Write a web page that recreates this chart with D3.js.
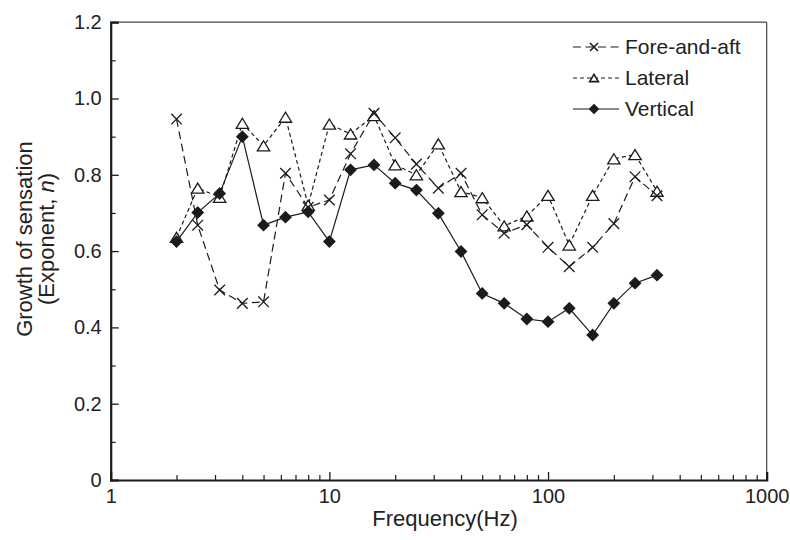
<!DOCTYPE html>
<html>
<head>
<meta charset="utf-8">
<script src="https://cdn.jsdelivr.net/npm/d3@7"></script>
<style>
  html, body { margin: 0; padding: 0; background: #fff; }
  svg { display: block; font-family: "Liberation Sans", Arial, Helvetica, sans-serif; }
</style>
</head>
<body>
<svg id="chart" width="790" height="540"></svg>
<script>
// One-third-octave centre frequencies (Hz)
const frequencies = [2, 2.5, 3.15, 4, 5, 6.3, 8, 10, 12.5, 16, 20, 25, 31.5, 40, 50, 63, 80, 100, 125, 160, 200, 250, 315];

// Rate of growth of sensation (exponent n) per axis
const foreAndAft = [0.946, 0.668, 0.498, 0.463, 0.467, 0.804, 0.715, 0.734, 0.855, 0.961, 0.897, 0.828, 0.765, 0.804, 0.695, 0.647, 0.669, 0.610, 0.559, 0.610, 0.672, 0.795, 0.745];
const lateral    = [0.636, 0.765, 0.741, 0.935, 0.876, 0.951, 0.720, 0.933, 0.907, 0.955, 0.826, 0.800, 0.881, 0.756, 0.740, 0.666, 0.692, 0.746, 0.616, 0.746, 0.842, 0.853, 0.757];
const vertical   = [0.625, 0.701, 0.751, 0.900, 0.668, 0.689, 0.703, 0.625, 0.813, 0.826, 0.778, 0.760, 0.699, 0.599, 0.489, 0.463, 0.422, 0.415, 0.450, 0.380, 0.463, 0.516, 0.537];

const xTickValues = [1, 10, 100, 1000];
const yTickValues = [0, 0.2, 0.4, 0.6, 0.8, 1.0, 1.2];
const seriesNames = ["Fore-and-aft", "Lateral", "Vertical"];

const svg = d3.select("#chart");
const plotLeft = 110.7, plotRight = 766.7, plotTop = 22.2, plotBottom = 480;
const ink = "#1b1b1b";

const x = d3.scaleLog().domain([1, 1000]).range([plotLeft, plotRight]);
const y = d3.scaleLinear().domain([0, 1.2]).range([plotBottom, plotTop]);

// Thin frame on the top and right
svg.append("line").attr("x1", plotLeft).attr("x2", plotRight).attr("y1", plotTop).attr("y2", plotTop)
  .attr("stroke", "#444").attr("stroke-width", 1.2);
svg.append("line").attr("x1", plotRight).attr("x2", plotRight).attr("y1", plotTop).attr("y2", plotBottom)
  .attr("stroke", "#444").attr("stroke-width", 1.2);

// Minor ticks
const xMinor = [];
[1, 10, 100].forEach(d => { for (let k = 2; k <= 9; k++) xMinor.push(d * k); });
const yMinor = [0.1, 0.3, 0.5, 0.7, 0.9, 1.1];

const xMinorAxis = svg.append("g").attr("transform", `translate(0,${plotBottom})`)
  .call(d3.axisBottom(x).tickValues(xMinor).tickSize(-5).tickFormat(""));
const yMinorAxis = svg.append("g").attr("transform", `translate(${plotLeft},0)`)
  .call(d3.axisLeft(y).tickValues(yMinor).tickSize(-5).tickFormat(""));
[xMinorAxis, yMinorAxis].forEach(g => {
  g.select(".domain").remove();
  g.selectAll("line").attr("stroke", ink).attr("stroke-width", 1.2);
});

// Major axes
const xAxis = svg.append("g").attr("transform", `translate(0,${plotBottom})`)
  .call(d3.axisBottom(x).tickValues(xTickValues).tickSize(-8).tickPadding(9).tickFormat(d3.format("d")));
const yAxis = svg.append("g").attr("transform", `translate(${plotLeft},0)`)
  .call(d3.axisLeft(y).tickValues(yTickValues).tickSize(-8).tickPadding(9)
    .tickFormat(d => d === 0 ? "0" : d3.format(".1f")(d)));
[xAxis, yAxis].forEach(g => {
  g.select(".domain").attr("stroke", ink).attr("stroke-width", 2.2);
  g.selectAll(".tick line").attr("stroke", ink).attr("stroke-width", 1.3);
  g.selectAll(".tick text").attr("fill", "#222").style("font-size", "20px")
    .style("font-family", "'Liberation Sans', Arial, sans-serif");
});

// Axis titles
svg.append("text").attr("x", 445).attr("y", 526).attr("text-anchor", "middle")
  .attr("fill", "#222").style("font-size", "22px").text("Frequency(Hz)");

const yTitle = svg.append("g").attr("transform", "translate(0,239) rotate(-90)");
yTitle.append("text").attr("x", 0).attr("y", 32).attr("text-anchor", "middle")
  .attr("fill", "#222").style("font-size", "22px").text("Growth of sensation");
const t2 = yTitle.append("text").attr("x", 0).attr("y", 54).attr("text-anchor", "middle")
  .attr("fill", "#222").style("font-size", "22px");
t2.append("tspan").text("(Exponent, ");
t2.append("tspan").style("font-style", "italic").text("n");
t2.append("tspan").text(")");

// Marker shapes
const marker = {
  cross: s => `M${-s},${-s}L${s},${s}M${-s},${s}L${s},${-s}`,
  triangle: s => `M0,${-s * 0.9}L${s * 1.1},${s * 0.9}L${-s * 1.1},${s * 0.9}Z`,
  diamond: s => `M0,${-s}L${s},0L0,${s}L${-s},0Z`
};

const series = [
  { name: seriesNames[0], values: foreAndAft, dash: "8,4.5", shape: "cross", fill: "none" },
  { name: seriesNames[1], values: lateral, dash: "4,3", shape: "triangle", fill: "#fff" },
  { name: seriesNames[2], values: vertical, dash: null, shape: "diamond", fill: ink }
];

const line = d3.line().x(d => x(d[0])).y(d => y(d[1]));

// Connecting lines
series.forEach(s => {
  svg.append("path")
    .datum(frequencies.map((f, i) => [f, s.values[i]]))
    .attr("d", line)
    .attr("fill", "none")
    .attr("stroke", ink)
    .attr("stroke-width", 1.2)
    .attr("stroke-dasharray", s.dash);
});

// Point markers: triangles under diamonds, crosses on top
const sizes = { cross: 5.3, triangle: 5.6, diamond: 5.5 };
[series[1], series[2], series[0]].forEach(s => {
  svg.append("g").selectAll("path")
    .data(frequencies.map((f, i) => [f, s.values[i]]))
    .join("path")
    .attr("transform", d => `translate(${x(d[0])},${y(d[1])})`)
    .attr("d", marker[s.shape](sizes[s.shape]))
    .attr("fill", s.fill)
    .attr("stroke", ink)
    .attr("stroke-width", 1.3);
});

// Legend
const legend = svg.append("g");
const legendY = [47, 78, 109];
series.forEach((s, i) => {
  const g = legend.append("g").attr("transform", `translate(0,${legendY[i]})`);
  g.append("line").attr("x1", 573).attr("x2", 619).attr("y1", 0).attr("y2", 0)
    .attr("stroke", ink).attr("stroke-width", 1.2).attr("stroke-dasharray", s.dash);
  g.append("path").attr("transform", "translate(594,0)")
    .attr("d", marker[s.shape](s.shape === "diamond" ? 4.2 : 4))
    .attr("fill", s.fill).attr("stroke", ink).attr("stroke-width", 1.6);
  g.append("text").attr("x", 625).attr("y", 0).attr("dy", "0.35em")
    .attr("fill", "#222").style("font-size", "21px").text(s.name);
});
</script>
</body>
</html>
